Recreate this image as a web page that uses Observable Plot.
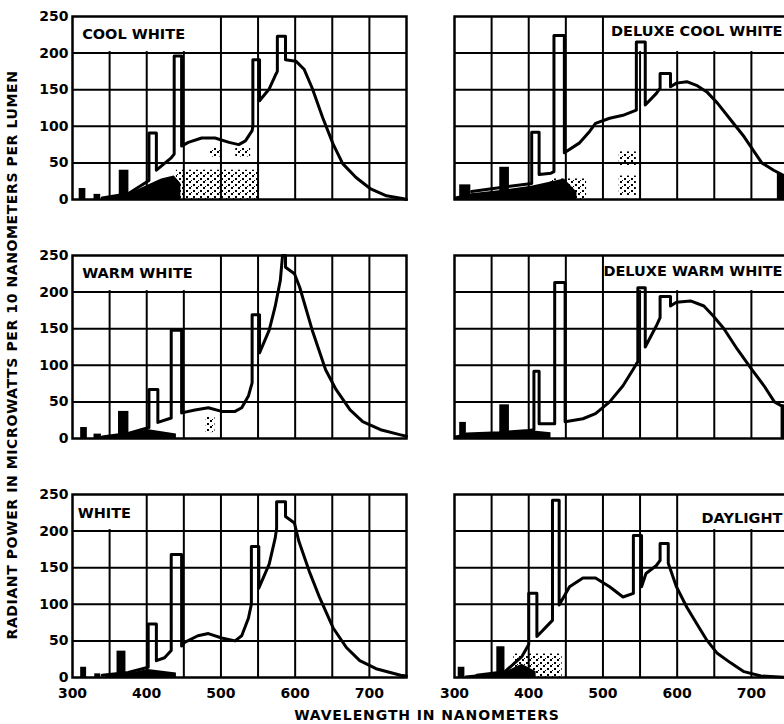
<!DOCTYPE html>
<html><head><meta charset="utf-8">
<script src="https://cdn.jsdelivr.net/npm/d3@7"></script>
<script src="https://cdn.jsdelivr.net/npm/@observablehq/plot@0.6"></script>
<style>
html,body{margin:0;padding:0;background:#fff;overflow:hidden;width:784px;height:724px}
#wrap{position:relative;width:784px;height:724px;overflow:hidden}
#chart{position:absolute;left:0;top:0;width:794px}
.ytitle{position:absolute;left:12px;top:355px;transform:translate(-50%,-50%) rotate(-90deg);white-space:nowrap;font:bold 14px "DejaVu Sans";letter-spacing:0.6px;color:#000}
.xtitle{position:absolute;left:427px;top:715px;transform:translate(-50%,-50%);white-space:nowrap;font:bold 14px "DejaVu Sans";letter-spacing:0.9px;color:#000}
</style></head>
<body><div id="wrap"><div id="chart"></div>
<div class="ytitle">RADIANT POWER IN MICROWATTS PER 10 NANOMETERS PER LUMEN</div>
<div class="xtitle">WAVELENGTH IN NANOMETERS</div></div>
<script>
// panels
const panels = ["COOL WHITE","DELUXE COOL WHITE","WARM WHITE","DELUXE WARM WHITE","WHITE","DAYLIGHT"];
const panelCol = [0,1,0,1,0,1];
const panelRow = [0,0,1,1,2,2];
const titleY = [225,230,225,228,224,217];
const titleX = [313,750,313,750,307,750];
const boxStart = [300,512,300,505,300,610];
const boxEnd = [497,750,497,750,397,750];
const boxBottom = 200, boxTop = 250;

// axis ticks / grid
const xTicks = [300,400,500,600,700];
const yTicks = [0,50,100,150,200,250];
const gridNm = [350,400,450,500,550,600,650,700];
const gridVal = [50,100,150,200];

// spectra (wavelength nm, radiant power)
const coolWhiteNm = [340,375,403,403,413,413,433,437,437,447,447,456,474,492,511,524,533,542,543,543,552,552,565,573,576,576,587,587,601,612,623,637,651,664,682,701,723,746,750];
const coolWhiteVal = [2,8,26,91,91,40,57,62,196,196,73,78,84,84,78,75,80,94,100,191,191,135,151,169,175,223,223,191,189,178,152,112,76,49,30,15,5,1,0];
const deluxeCoolNm = [323,404,404,414,414,430,434,434,448,448,468,482,490,509,527,545,545,557,557,572,577,577,591,591,599,613,626,640,654,672,690,714,730,745,750];
const deluxeCoolVal = [11,22,92,92,34,36,38,224,224,64,77,93,104,111,115,122,215,215,129,145,152,172,172,154,159,161,156,147,132,109,86,50,40,32,30];
const warmWhiteNm = [340,375,403,403,415,415,433,433,447,447,465,483,501,519,528,537,542,542,552,552,565,573,580,583,587,587,599,606,623,641,655,674,691,715,742,750];
const warmWhiteVal = [2,7,15,67,67,22,28,148,148,35,39,42,37,37,42,58,76,169,169,117,148,180,216,250,250,234,225,207,148,94,67,39,23,12,5,3];
const deluxeWarmNm = [316,360,400,407,407,414,414,435,435,449,449,473,490,509,527,541,547,547,557,557,572,577,577,591,591,599,618,636,649,663,681,700,717,731,740,750];
const deluxeWarmVal = [6,8,11,12,92,92,20,20,213,213,23,27,34,50,72,95,105,206,206,125,154,165,194,194,181,186,188,181,167,150,122,95,72,50,45,43];
const whiteNm = [340,375,402,402,413,413,424,433,433,447,447,451,469,483,501,519,528,537,541,541,551,551,565,573,575,575,587,587,599,605,619,633,651,669,687,709,742,750];
const whiteVal = [3,7,14,73,73,23,27,37,168,168,43,48,57,60,54,50,57,81,100,179,179,122,155,190,204,240,240,220,211,186,145,109,68,41,23,12,3,2];
const daylightNm = [330,368,391,400,400,411,411,429,432,432,441,441,455,473,490,509,527,541,541,552,552,558,572,577,577,588,588,599,613,626,640,654,672,690,713,750];
const daylightVal = [3,8,29,45,115,115,56,75,78,242,242,99,124,136,136,124,110,115,194,194,124,142,153,160,183,183,156,124,96,74,51,33,20,8,2,0];

// ultraviolet mercury line blocks
const uvPanel = [0,0,0,1,1,2,2,2,3,3,4,4,4,5,5];
const uvStart = [309,329,363,307,361,311,329,362,307,361,311,330,360,305,357];
const uvEnd   = [318,338,376,322,374,320,339,376,316,374,319,338,372,314,368];
const uvHeight= [15,7,40,20,44,15,6,37,22,46,14,5,36,14,42];

// dark filled ground areas
const darkPanel = [0,0,0,0,0,0, 1,1,1,1,1,1,1, 1,1,1, 2,2,2,2, 3,3,3,3,3, 3,3,3, 4,4,4,4, 5,5,5,5];
const darkSeg   = [0,0,0,0,0,0, 0,0,0,0,0,0,0, 1,1,1, 0,0,0,0, 0,0,0,0,0, 1,1,1, 0,0,0,0, 0,0,0,0];
const darkNm    = [345,375,403,420,437,446, 300,323,360,404,430,448,465, 735,745,750, 345,375,403,440, 300,316,360,400,430, 740,745,750, 345,375,402,440, 315,368,391,410];
const darkVal   = [2,7,20,28,32,22, 3,8,12,18,24,28,10, 36,32,30, 2,6,12,6, 3,6,8,11,8, 45,44,43, 2,5,11,6, 2,7,18,8];

// halftone speckled regions
const speckPanel = [0,0,0,1,1,1,2,5];
const speckStart = [440,485,520,430,522,522,480,380];
const speckEnd   = [552,500,540,478,545,545,492,445];
const speckLow   = [0,58,58,0,5,45,8,0];
const speckHigh  = [40,70,70,28,32,65,30,32];

const spectraNm = [coolWhiteNm, deluxeCoolNm, warmWhiteNm, deluxeWarmNm, whiteNm, daylightNm];
const spectraVal = [coolWhiteVal, deluxeCoolVal, warmWhiteVal, deluxeWarmVal, whiteVal, daylightVal];

const spectra = spectraNm.flatMap((arr, i) => arr.map((nm, j) => ({panel: panels[i], col: panelCol[i], row: panelRow[i], nm, v: spectraVal[i][j]})));
const panelRows = panels.map((p, i) => ({panel: p, col: panelCol[i], row: panelRow[i], tx: titleX[i], ty: titleY[i], b1: boxStart[i], b2: boxEnd[i], right: panelCol[i] === 1}));
const uv = uvPanel.map((p, i) => ({col: panelCol[p], row: panelRow[p], x1: uvStart[i], x2: uvEnd[i], h: uvHeight[i]}));
const dark = darkPanel.map((p, i) => ({key: p + "-" + darkSeg[i], col: panelCol[p], row: panelRow[p], nm: darkNm[i], v: darkVal[i]}));
const speck = speckPanel.map((p, i) => ({col: panelCol[p], row: panelRow[p], x1: speckStart[i], x2: speckEnd[i], y1: speckLow[i], y2: speckHigh[i]}));

const chart = Plot.plot({
  width: 794, height: 704,
  marginLeft: 72, marginRight: 6, marginTop: 15, marginBottom: 26,
  style: {fontFamily: "DejaVu Sans", fontWeight: "bold", fontSize: "14px", background: "white", color: "black", maxWidth: "none", width: "794px", height: "704px"},
  x: {domain: [300, 750], ticks: xTicks, tickSize: 0, tickPadding: 11, label: null, tickFormat: d => String(d)},
  y: {domain: [0, 250], ticks: yTicks, tickSize: 0, tickPadding: 4, label: null},
  fx: {axis: null, paddingInner: 0.126, paddingOuter: 0},
  fy: {axis: null, paddingInner: 0.233, paddingOuter: 0},
  marks: [
    Plot.gridX(gridNm, {stroke: "black", strokeOpacity: 1, strokeWidth: 2}),
    Plot.gridY(gridVal, {stroke: "black", strokeOpacity: 1, strokeWidth: 2}),
    Plot.rect(panelRows, {x1: "b1", x2: "b2", y1: () => boxBottom, y2: () => boxTop, fx: "col", fy: "row", fill: "white", insetBottom: 1.5}),
    Plot.rect(speck, {x1: "x1", x2: "x2", y1: "y1", y2: "y2", fx: "col", fy: "row", fill: "url(#speck)"}),
    Plot.areaY(dark, {x: "nm", y: "v", z: "key", fx: "col", fy: "row", fill: "black"}),
    Plot.rect(uv, {x1: "x1", x2: "x2", y1: 0, y2: "h", fx: "col", fy: "row", fill: "black"}),
    Plot.line(spectra, {x: "nm", y: "v", z: "panel", fx: "col", fy: "row", stroke: "black", strokeWidth: 3, strokeLinejoin: "round"}),
    Plot.frame({stroke: "black", strokeWidth: 2.5}),
    Plot.text(panelRows.filter(d => !d.right), {x: "tx", y: "ty", text: "panel", fx: "col", fy: "row", textAnchor: "start", fontSize: 14.5, fontWeight: "bold", fill: "black"}),
    Plot.text(panelRows.filter(d => d.right), {x: "tx", y: "ty", text: "panel", fx: "col", fy: "row", textAnchor: "end", dx: -6, fontSize: 14.5, fontWeight: "bold", fill: "black"})
  ]
});
chart.insertAdjacentHTML("afterbegin", '<defs><pattern id="speck" width="7" height="6" patternUnits="userSpaceOnUse"><rect x="0" y="0" width="2" height="2" fill="black"/><rect x="4" y="3" width="2" height="2" fill="black"/><rect x="2" y="5" width="1" height="1" fill="black"/></pattern></defs>');
document.getElementById("chart").appendChild(chart);
</script></body></html>
